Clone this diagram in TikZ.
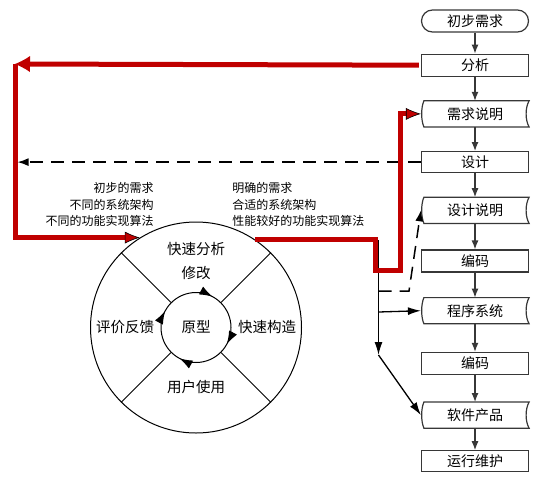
\documentclass[tikz,border=0pt]{standalone}
\usepackage{fontspec}
\setmainfont{Noto Sans CJK SC}
\usetikzlibrary{positioning,arrows.meta,decorations.markings}
\definecolor{flowred}{RGB}{192,0,0}
\definecolor{boxgray}{RGB}{55,55,55}

\begin{document}
\begin{tikzpicture}[x=1pt,y=-1pt,>={Latex[length=9pt,width=7pt]},thick,
    box node/.style={draw=boxgray,line width=1.2pt,minimum width=107pt,minimum height=22pt,inner sep=0pt,font=\fontsize{14}{16}\selectfont},
    tape node/.style={box node,draw=none,minimum height=25pt},
    ring text/.style={font=\fontsize{14.5}{17}\selectfont},
    note text/.style={font=\fontsize{12}{16.5}\selectfont,inner sep=0pt},
    red flow/.style={draw=flowred,line width=5pt},
    red tip/.style={-{Latex[length=15pt,width=12pt,line width=0.6pt,color=black,fill=flowred]}},
    black flow/.style={draw=black,line width=1.3pt,-{Latex[length=13pt,width=8pt]}},
    dash line/.style={draw=black,line width=1.5pt,dash pattern=on 13pt off 8pt,-{Latex[length=11pt,width=8pt]}},
    ring arrows/.style={postaction={decorate},decoration={markings,
        mark=at position 0.172 with {\arrowreversed{Latex[length=13pt,width=9pt]}},
        mark=at position 0.422 with {\arrowreversed{Latex[length=13pt,width=9pt]}},
        mark=at position 0.672 with {\arrowreversed{Latex[length=13pt,width=9pt]}},
        mark=at position 0.922 with {\arrowreversed{Latex[length=13pt,width=9pt]}}}}]
    \useasboundingbox (0,0) rectangle (556,485);

    \node[box node,rounded corners=11pt] (chubu) at (475,21) {初步需求};
    \node[box node] (fenxi) [below=21pt of chubu] {分析};
    \node[tape node] (xqsm) [below=24pt of fenxi] {需求说明};
    \node[box node,minimum height=21pt] (sheji) [below=24pt of xqsm] {设计};
    \node[tape node] (sjsm) [below=24pt of sheji] {设计说明};
    \node[box node] (bianma1) [below=26pt of sjsm] {编码};
    \node[tape node] (cxxt) [below=25pt of bianma1] {程序系统};
    \node[box node] (bianma2) [below=28pt of cxxt] {编码};
    \node[tape node] (rjcp) [below=27pt of bianma2] {软件产品};
    \node[box node,minimum height=21pt] (yxwh) [below=22pt of rjcp] {运行维护};

    \foreach \t in {xqsm,sjsm,cxxt,rjcp}
        \draw[boxgray,line width=1.2pt] ([xshift=3pt]\t.north west) -- (\t.north east)
            .. controls ([xshift=-4pt,yshift=-7pt]\t.north east) and ([xshift=-4pt,yshift=7pt]\t.south east) .. (\t.south east)
            -- ([xshift=3pt]\t.south west)
            .. controls ([yshift=7pt]\t.south west) and ([yshift=-7pt]\t.north west) .. cycle;

    \path[every edge/.style={draw=boxgray,line width=1.2pt,->}]
        (chubu) edge (fenxi)
        (fenxi) edge (xqsm)
        (xqsm) edge (sheji)
        (sheji) edge (sjsm)
        (sjsm) edge (bianma1)
        (bianma1) edge (cxxt)
        (cxxt) edge (bianma2)
        (bianma2) edge (rjcp)
        (rjcp) edge (yxwh)
        ;

    \node[circle,draw,line width=1pt,minimum size=211pt,inner sep=0pt] (proto) at (196,327.5) {};
    \node[circle,minimum size=70pt,inner sep=0pt,ring text] (core) at (proto.center) {原型};
    \draw[line width=1pt,ring arrows] (core.center) circle[radius=35pt];
    \foreach \a in {45,135,225,315}
        \draw[line width=0.9pt] (core.\a) -- (proto.\a);

    \node[ring text] (fast) at (196,249) {快速分析};
    \node[ring text] (modify) at (196,273) {修改};
    \node[ring text] (build) at (267,327) {快速构造};
    \node[ring text] (review) at (125,327) {评价反馈};
    \node[ring text] (use) at (196,387) {用户使用};

    \node[note text,align=right,anchor=east] (needL) at (154,204.5) {初步的需求\\不同的系统架构\\不同的功能实现算法};
    \node[note text,align=left,anchor=west] (needR) at (232,204.5) {明确的需求\\合适的系统架构\\性能较好的功能实现算法};

    \coordinate (redleft) at (15,64);
    \coordinate (redA) at (375,270);
    \coordinate (redB) at (400,270);
    \coordinate (bTop) at (378.5,240);
    \coordinate (bDash) at (378.5,291);
    \coordinate (bProg) at (378.5,312);
    \coordinate (bEnd) at (378.5,355);
    \coordinate (dTurn) at (409,291);

    \draw[black flow] (bTop) -- (bEnd);
    \draw[black flow] (bProg) -- (cxxt.west);
    \draw[black flow] (bEnd) -- (rjcp.west);
    \draw[dash line] (bDash) -- (dTurn) -- (sjsm.west);
    \draw[dash line,shorten >=2.5pt] (sheji.west) -- (sheji.west -| redleft);

    \draw[red flow,shorten <=2pt,-{Latex[length=15pt,width=16pt,line width=0pt]}] (fenxi.west) -- (redleft);
    \draw[red flow,red tip] (redleft) |- (proto.122);
    \draw[red flow,red tip] (proto.56) -| (redA) -- (redB) |- (xqsm.west);
\end{tikzpicture}
\end{document}
